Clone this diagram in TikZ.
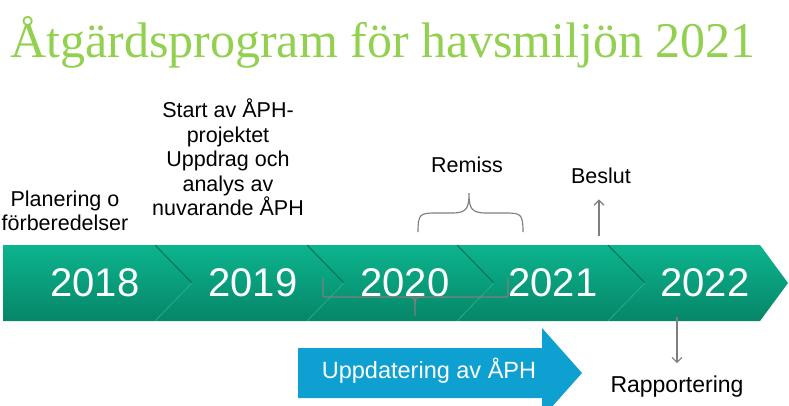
\documentclass[tikz,border=0pt]{standalone}
\usepackage{fontspec}
\setmainfont{Liberation Sans}
\newfontfamily\titlefont{Liberation Serif}
\usetikzlibrary{arrows.meta,calc,positioning}
\definecolor{titlegreen}{RGB}{146,208,80}
\definecolor{bandtop}{RGB}{12,180,142}
\definecolor{bandbot}{RGB}{6,134,104}
\definecolor{chevdark}{RGB}{7,112,88}
\definecolor{chevlight}{RGB}{50,178,144}
\definecolor{conngray}{RGB}{127,127,127}
\definecolor{updblue}{RGB}{14,160,208}

\begin{document}
\begin{tikzpicture}[x=1pt, y=-1pt]
    \tikzset{year/.style={anchor=base, text=white, font=\fontsize{40}{40}\selectfont},
      note/.style={align=center, inner sep=0pt, font=\fontsize{21.5}{24.5}\selectfont},
      conn/.style={draw=conngray, line width=1.15pt},
      arr/.style={conn, -{Straight Barb[length=5pt,width=10pt]}}}
    \clip (0,0) rectangle (789,405);
    \node[anchor=base west, inner sep=0pt, text=titlegreen, font=\titlefont\fontsize{50}{50}\selectfont] (title) at (10,57) {Åtgärdsprogram för havsmiljön 2021};
    \shade[top color=bandtop, bottom color=bandbot] (3,245) -- (760,245) -- (788,283) -- (760,321) -- (3,321) -- cycle;
    \foreach \x in {155,307,457,608} {
      \draw[chevdark, line width=1pt] (\x,245) -- (\x+37,283);
      \draw[chevlight, line width=0.6pt] (\x+37,283) -- (\x,321);
    }
    \node[year] (y2018) at (95,296) {2018};
    \node[year] (y2019) at (253,296) {2019};
    \node[year] (y2020) at (405,296) {2020};
    \node[year] (y2021) at (553,296) {2021};
    \node[year] (y2022) at (705,296) {2022};
    \node[note, anchor=south] (plan) at ($(y2018.base)+(-30,-65)$) {Planering o\\förberedelser};
    \node[note, anchor=south] (start) at ($(y2019.base)+(-25,-80)$) {Start av ÅPH-\\projektet\\Uppdrag och\\analys av\\nuvarande ÅPH};
    \node[note, anchor=base] (remiss) at (467,172) {Remiss};
    \node[note, anchor=base] (beslut) at (601,183) {Beslut};
    \node[note, anchor=base, font=\fontsize{23}{23}\selectfont] (rapp) at (677,392) {Rapportering};
    \draw[conn, rounded corners=2pt] (323,278) -- (323,297) -- (508,297) -- (508,278);
    \draw[conn] (409,297) .. controls (414,297) and (415,299) .. (415,304) -- (415,316);
    \draw[conn] (421,297) .. controls (416,297) and (415,299) .. (415,304);
    \draw[conn] (418,232) .. controls (418,214) and (420,213) .. (436,213) -- (452,213) .. controls (467,213) and (469,208) .. (469,193) .. controls (469,208) and (471,213) .. (486,213) -- (505,213) .. controls (521,213) and (523,214) .. (523,232);
    \coordinate (bfoot) at (599,236);
    \coordinate (rfoot) at (677,317);
    \draw[arr, shorten >=16pt] (bfoot) -- (bfoot |- beslut.south);
    \draw[arr, shorten >=12pt] (rfoot) -- (rfoot |- rapp.north);
    \fill[updblue] (298,348) -- (542,348) -- (542,328) -- (582,373) -- (542,418) -- (542,398) -- (298,398) -- cycle;
    \node[anchor=base, text=white, font=\fontsize{23.5}{23.5}\selectfont] (upd) at (429,378) {Uppdatering av ÅPH};
\end{tikzpicture}
\end{document}
